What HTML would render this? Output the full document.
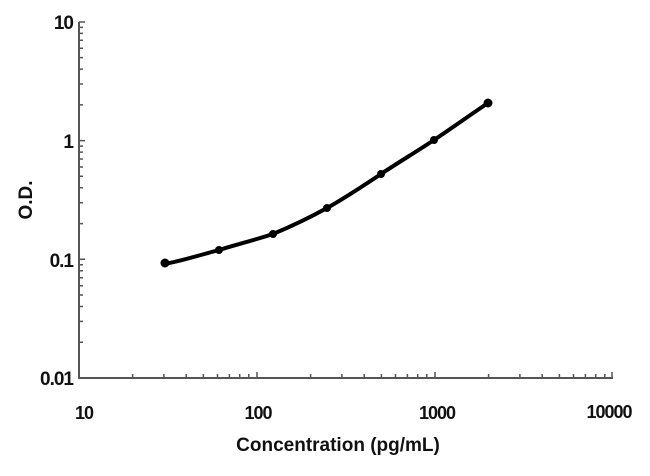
<!DOCTYPE html>
<html><head><style>body{margin:0;background:#fff}svg{display:block}</style></head><body>
<svg width="650" height="476" xmlns="http://www.w3.org/2000/svg" font-family="Liberation Sans, sans-serif" font-weight="bold">
<g stroke="#555" stroke-width="2" fill="none">
<path d="M79,22 V378 H613"/>
</g>
<path stroke="#555" stroke-width="1.5" fill="none" d="
M79,342.3h4M79,321.4h4M79,306.5h4M79,295h4M79,285.7h4M79,277.7h4M79,270.8h4M79,264.8h4M79,259.3h6
M79,223.6h4M79,202.7h4M79,187.8h4M79,176.3h4M79,167h4M79,159h4M79,152.1h4M79,146.1h4M79,140.6h6
M79,104.9h4M79,84h4M79,69.1h4M79,57.6h4M79,48.3h4M79,40.3h4M79,33.4h4M79,27.4h4M79,22h6
M132.6,378v-4M163.9,378v-4M186.2,378v-4M203.4,378v-4M217.5,378v-4M229.4,378v-4M239.7,378v-4M248.8,378v-4M257,378v-6
M310.6,378v-4M341.9,378v-4M364.2,378v-4M381.4,378v-4M395.5,378v-4M407.4,378v-4M417.7,378v-4M426.8,378v-4M435,378v-6
M488.6,378v-4M519.9,378v-4M542.2,378v-4M559.4,378v-4M573.5,378v-4M585.4,378v-4M595.7,378v-4M604.8,378v-4M612,378v-6"/>
<g font-size="19" fill="#111" text-anchor="end" letter-spacing="-1">
<text x="73" y="29">10</text>
<text x="73" y="148">1</text>
<text x="73" y="267">0.1</text>
<text x="73" y="385">0.01</text>
</g>
<g font-size="18" fill="#111" text-anchor="middle" letter-spacing="-1">
<text x="84" y="419">10</text>
<text x="258" y="419">100</text>
<text x="437" y="419">1000</text>
<text x="609" y="418">10000</text>
</g>
<text x="338" y="451" font-size="19" text-anchor="middle" fill="#111">Concentration (pg/mL)</text>
<text transform="translate(32,200) rotate(-90)" font-size="19" text-anchor="middle" fill="#111">O.D.</text>
<path d="M165,264 C185,260 200,255 219,250 C238,244 255,240 273,234 C292,226 309,218 327,208 C345,198 363,186 381,174 C399,162 416,152 434,140 C452,128 470,115 488,103" stroke="#000" stroke-width="4" fill="none" stroke-linecap="round"/>
<g fill="#000">
<circle cx="165" cy="263" r="4.5"/><circle cx="219" cy="250" r="4"/><circle cx="273" cy="234" r="4"/><circle cx="327" cy="208" r="4"/><circle cx="381" cy="174" r="4"/><circle cx="434" cy="140" r="4"/><circle cx="488" cy="103" r="4.5"/>
</g>
</svg>
</body></html>
